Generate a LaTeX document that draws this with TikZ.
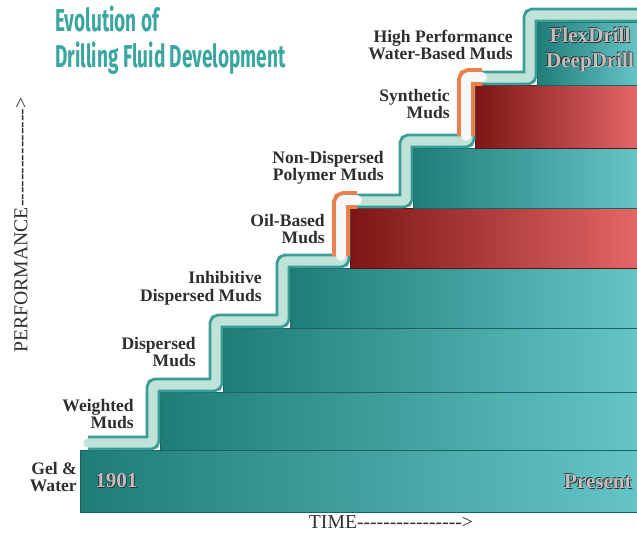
\documentclass[tikz,border=0pt]{standalone}
\usepackage{fontspec}
\usepackage{graphicx}
\usepackage{tikz}
\setmainfont{Liberation Serif}
\newfontfamily\titlefont{Fira Sans}
\definecolor{tealdark}{HTML}{1F7D78}
\definecolor{teallight}{HTML}{64C4C6}
\definecolor{reddark}{HTML}{7C1616}
\definecolor{redlight}{HTML}{E46666}
\definecolor{rimedge}{HTML}{3A9E96}
\definecolor{rimfill}{HTML}{BFE3D8}
\definecolor{oilrim}{HTML}{E8814B}
\definecolor{titleteal}{HTML}{3AA6A0}
\definecolor{labelgray}{HTML}{2E2E2E}
\newcommand{\dashrow}[1]{\foreach \k in {1,...,#1}{-}}
\newcommand{\embossed}[1]{\makebox[0pt][l]{\textcolor{black!80}{\kern0.6pt\raisebox{-0.6pt}{#1}}}\makebox[0pt][l]{\textcolor{black!80}{\kern-0.6pt\raisebox{0.6pt}{#1}}}\textcolor{gray!50}{#1}}
\tikzstyle{band}=[left color=tealdark, right color=teallight, draw=tealdark!80!black, line width=0.4pt]
\tikzstyle{redband}=[left color=reddark, right color=redlight, draw=reddark!80!black, line width=0.4pt]
\tikzstyle{rim}=[draw=rimfill, line width=6.5pt, preaction={draw=rimedge, line width=10.5pt}, rounded corners=2pt, line cap=round, line join=round]
\tikzstyle{oil}=[draw=white!94!gray, line width=7pt, preaction={draw=oilrim, line width=12.5pt}, rounded corners=2pt, line cap=round, line join=round]
\tikzstyle{stage}=[align=right, anchor=east, text=labelgray, inner sep=0pt, font=\bfseries\fontsize{12.5}{12.5}\selectfont]
\tikzstyle{emb}=[inner sep=0pt, font=\bfseries\fontsize{15}{15}\selectfont]
\tikzstyle{axis}=[inner sep=0pt, text=labelgray, font=\fontsize{14}{14}\selectfont]

\begin{document}
\begin{tikzpicture}[x=0.025cm, y=-0.025cm]
            \useasboundingbox (0,0) rectangle (637,535);
            % steps, bottom to top
            \path[band] (80,450) rectangle (637,512);
            \path[band] (160,392) rectangle (637,450);
            \path[band] (223,328) rectangle (637,392);
            \path[band] (290,268) rectangle (637,328);
            \path[redband] (350,208) rectangle (637,268);
            \path[band] (413,148) rectangle (637,208);
            \path[redband] (475,85) rectangle (637,148);
            \path[band] (537,22) rectangle (637,85);
            % rim
            \draw[rim] (88,443) -- (153,443) -- (153,385) -- (216,385) -- (216,321)
                -- (283,321) -- (283,261) -- (343,261) -- (343,201) -- (406,201)
                -- (406,141) -- (468,141) -- (468,78) -- (530,78) -- (530,15) -- (650,15);
            \draw[oil] (341,256) -- (341,200) -- (357,200);
            \draw[oil] (466,136) -- (466,77) -- (482,77);

            \node[anchor=north west, inner sep=0pt, text=titleteal] (title) at (55,6)
                {\scalebox{0.6}[1]{\titlefont\bfseries\fontsize{22.5}{23.5}\selectfont
                \begin{tabular}{@{}l@{}}Evolution of\\Drilling Fluid Development\end{tabular}}}
            ;
            \node[stage] (gel) at (77,477) {Gel \&\\Water};
            \node[stage] (weighted) at (134,414) {Weighted\\Muds};
            \node[stage] (dispersed) at (196,352) {Dispersed\\Muds};
            \node[stage] (inhibitive) at (262,288) {Inhibitive\\Dispersed Muds};
            \node[stage] (oilbased) at (325,229) {Oil-Based\\Muds};
            \node[stage] (polymer) at (384,168) {Non-Dispersed\\Polymer Muds};
            \node[stage] (synthetic) at (450,104) {Synthetic\\Muds};
            \node[stage] (highperf) at (513,45) {High Performance\\Water-Based Muds};

            \node[emb, anchor=west] (start) at (95,481) {\embossed{1901}};
            \node[emb, anchor=east] (present) at (632,482) {\embossed{Present}};
            \node[emb] (flex) at (590,35) {\embossed{FlexDrill}};
            \node[emb] (deep) at (590,62) {\embossed{DeepDrill}};

            \node[axis, rotate=90] (perf) at (21,225) {PERFORMANCE\dashrow{15}>};
            \node[axis] (time) at (391,522) {TIME\dashrow{16}>};
\end{tikzpicture}
\end{document}
